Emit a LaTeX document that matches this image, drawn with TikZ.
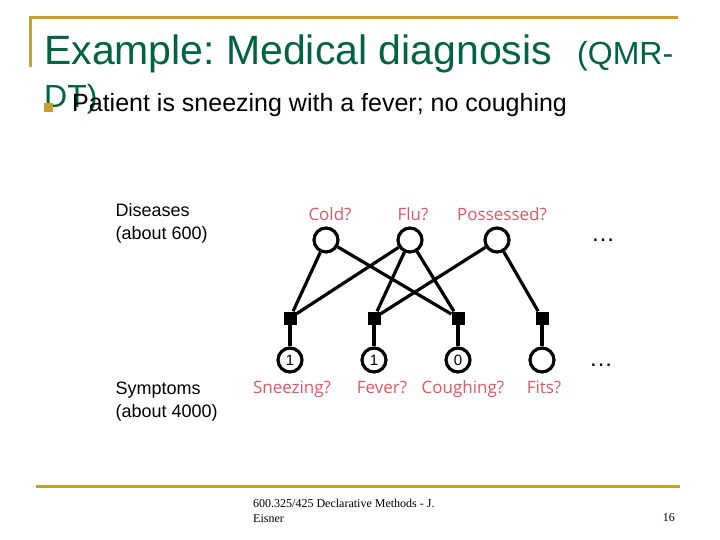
\documentclass[tikz,border=0pt]{standalone}
\usepackage{fontspec}
\setmainfont{Liberation Sans}
\newfontfamily\footfont{Liberation Serif}
\newfontfamily\handfont{Open Sans}
\definecolor{slidegold}{RGB}{198,160,44}
\definecolor{titlegreen}{RGB}{0,100,62}
\definecolor{labelpink}{RGB}{222,88,100}

\begin{document}
\begin{tikzpicture}[x=1pt,y=-1pt,
  var/.style={circle,draw,line width=3.2pt,minimum size=24pt,inner sep=0pt,font=\fontsize{15}{15}\selectfont},
  fac/.style={rectangle,fill,minimum size=13pt,inner sep=0pt},
  lbl/.style={anchor=base,text=labelpink,font=\handfont\fontsize{17}{17}\selectfont},
  side/.style={anchor=base west,font=\fontsize{18}{18}\selectfont},
  edge/.style={line width=3.2pt}]
\useasboundingbox (0,0) rectangle (720,540);
\draw[slidegold,line width=3pt] (30,67) -- (30,18) -- (678,18);
\draw[slidegold,line width=3pt] (36,486) -- (680,486);

\node[anchor=base west,inner sep=0pt,text=titlegreen,font=\fontsize{41}{41}\selectfont] (title) at (44,65) {Example:\hspace{-4pt} Medical diagnosis};
\node[anchor=base west,inner sep=0pt,text=titlegreen,font=\fontsize{32}{32}\selectfont] (titlemore) at (577,65) {(QMR-};
\node[anchor=base west,inner sep=0pt,text=titlegreen,font=\fontsize{32}{32}\selectfont] (titleend) at (44,108) {DT)};
\node[fill=slidegold,minimum size=9pt,inner sep=0pt] (bullet) at (48.5,107.5) {};
\node[anchor=base west,inner sep=0pt,font=\fontsize{25}{25}\selectfont] (point) at (72,112) {Patient is sneezing with a fever; no coughing};

\node[side] (dis) at (112,217) {Diseases};
\node[side] (disn) at (112,240) {(about 600)};
\node[side] (sym) at (112,394) {Symptoms};
\node[side] (symn) at (112,417) {(about 4000)};

\node[var] (cold) at (326,240) {};
\node[var] (flu) at (410,240) {};
\node[var] (poss) at (497,240) {};
\node[lbl] (coldl) at (330,221) {Cold?};
\node[lbl] (flul) at (413,221) {Flu?};
\node[lbl] (possl) at (502,221) {Possessed?};
\node[anchor=base,font=\fontsize{24}{24}\selectfont] (moredis) at (603,241.5) {\dots};

\node[fac] (f1) at (290,318) {};
\node[fac] (f2) at (374,318) {};
\node[fac] (f3) at (458,318) {};
\node[fac] (f4) at (542,318) {};

\node[var] (sneeze) at (290,360) {1};
\node[var] (fever) at (374,360) {1};
\node[var] (cough) at (458,360) {0};
\node[var] (fits) at (542,360) {};
\node[lbl] (sneezel) at (292,393) {Sneezing?};
\node[lbl] (feverl) at (382,393) {Fever?};
\node[lbl] (coughl) at (463,393) {Coughing?};
\node[lbl] (fitsl) at (544,393) {Fits?};
\node[anchor=base,font=\fontsize{24}{24}\selectfont] (moresym) at (601,366) {\dots};

\draw[edge] (cold) -- (f1);
\draw[edge] (cold) -- (f3);
\draw[edge] (flu) -- (f1);
\draw[edge] (flu) -- (f2);
\draw[edge] (flu) -- (f3);
\draw[edge] (poss) -- (f2);
\draw[edge] (poss) -- (f4);
\draw[edge] (f1) -- (sneeze);
\draw[edge] (f2) -- (fever);
\draw[edge] (f3) -- (cough);
\draw[edge] (f4) -- (fits);

\node[anchor=base west,inner sep=0pt,font=\footfont\fontsize{12}{12}\selectfont] (foot) at (253,507) {600.325/425 Declarative Methods - J.};
\node[anchor=base west,inner sep=0pt,font=\footfont\fontsize{12}{12}\selectfont] (footb) at (253,522) {Eisner};
\node[anchor=base east,inner sep=0pt,font=\footfont\fontsize{12}{12}\selectfont] (page) at (675,521) {16};
\end{tikzpicture}
\end{document}
